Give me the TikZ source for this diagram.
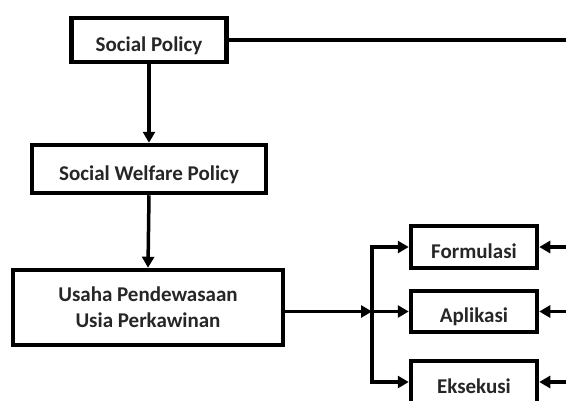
\documentclass[tikz,border=0pt]{standalone}
\usepackage{fontspec}
\setmainfont{Carlito}
\usetikzlibrary{arrows.meta}
\begin{document}
\begin{tikzpicture}[x=1pt,y=-1pt,
  box/.style={draw=black,line width=4.5pt,fill=white,inner sep=0pt,align=center,
    font=\bfseries\fontsize{21}{26}\selectfont,text=black!85},
  low/.style={text height=22pt,text depth=0pt},
  arr/.style={line width=3.5pt,-{Triangle[length=11pt,width=12pt]}},
  ln/.style={line width=3.5pt}]
\useasboundingbox (0,0) rectangle (566,400);
\node[box,low,minimum width=155pt,minimum height=44pt] (sp) at (149,40) {Social Policy};
\node[box,low,minimum width=234pt,minimum height=48pt] (swp) at (149,169) {Social Welfare Policy};
\node[box,minimum width=270pt,minimum height=75pt] (upu) at (148,307.5) {Usaha Pendewasaan\\Usia Perkawinan};
\node[box,low,minimum width=126pt,minimum height=42pt] (f) at (474,247) {Formulasi};
\node[box,low,minimum width=126pt,minimum height=41pt] (a) at (474,311.5) {Aplikasi};
\node[box,low,minimum width=126pt,minimum height=42pt] (e) at (474,382) {Eksekusi};
\coordinate (top) at (566,40);
\coordinate (j) at (372,311.5);
\coordinate (rf) at (566,247);
\coordinate (ra) at (566,311.5);
\coordinate (re) at (566,382);
\draw[ln] (sp.east) -- (top);
\draw[arr] (sp.south) -- (swp.north);
\draw[arr] (swp.south) -- (upu.north);
\draw[arr] (upu.east |- j) -- (j);
\draw[arr] (j) |- (f.west);
\draw[arr] (j) -- (a.west);
\draw[arr] (j) |- (e.west);
\draw[arr] (rf) -- (f.east);
\draw[arr] (ra) -- (a.east);
\draw[arr] (re) -- (e.east);
\end{tikzpicture}
\end{document}
